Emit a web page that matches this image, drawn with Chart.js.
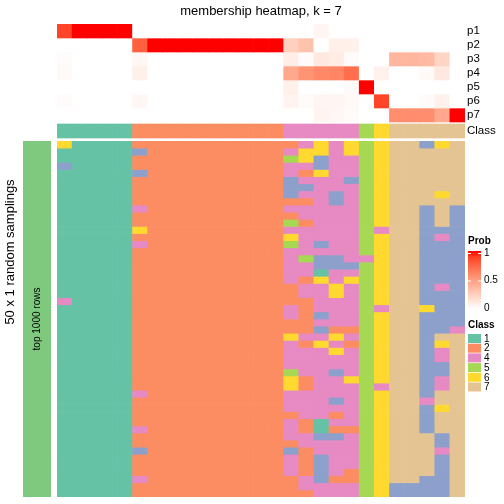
<!DOCTYPE html>
<html><head><meta charset="utf-8">
<script src="https://cdn.jsdelivr.net/npm/chart.js@4.4.1/dist/chart.umd.min.js"></script>
<style>html,body{margin:0;padding:0;background:#fff;}#wrap{position:relative;width:504px;height:504px;}</style>
</head><body><div id="wrap"><canvas id="c" width="504" height="504"></canvas></div>
<script>
// ---------------- data ----------------
const titleText = 'membership heatmap, k = 7';
const columnIds = ['c1','c2','c3','c4','c5','c6','c7','c8','c9','c10','c11','c12','c13','c14','c15','c16','c17','c18','c19','c20','c21','c22','c23','c24','c25','c26','c27'];
const probNames = ['p1','p2','p3','p4','p5','p6','p7'];
const p1 = [0.88,1,1,1,1, 0,0,0,0,0,0,0,0,0,0, 0,0,0.05,0,0, 0,0, 0,0,0,0,0];
const p2 = [0,0,0,0,0, 0.78,1,1,1,1,1,1,1,1,1, 0.25,0.32,0,0.08,0.07, 0,0, 0,0,0,0,0];
const p3 = [0.02,0,0,0,0, 0.04,0,0,0,0,0,0,0,0,0, 0.09,0.02,0.12,0.1,0.02, 0,0, 0.38,0.38,0.36,0.22,0];
const p4 = [0.03,0,0,0,0, 0.08,0,0,0,0,0,0,0,0,0, 0.45,0.55,0.6,0.62,0.72, 0,0.07, 0,0,0.03,0.12,0];
const p5 = [0,0,0,0,0, 0,0,0,0,0,0,0,0,0,0, 0.08,0,0,0,0.02, 1,0, 0,0,0,0,0];
const p6 = [0.02,0,0,0,0, 0.04,0,0,0,0,0,0,0,0,0, 0.06,0.02,0.05,0.05,0.03, 0,0.88, 0,0,0.02,0.07,0];
const p7 = [0,0,0,0,0, 0,0,0,0,0,0,0,0,0,0, 0,0,0.06,0.04,0.02, 0,0, 0.58,0.58,0.58,0.45,1];
const columnClass = [1,1,1,1,1, 2,2,2,2,2,2,2,2,2,2, 4,4,4,4,4, 5, 6, 7,7,7,7,7];
// 50 random samplings x 27 columns, class label per cell
const samplingRows = [
'611112222222222246465677367',
'111113222222222466465677777',
'111112222222222563445677777',
'311112222222222443445677777',
'111113222222222426445677777',
'111112222222222344435677777',
'111112222222222334445677777',
'111112222222222344345677767',
'111112222222222224345677777',
'111114222222222444445677373',
'111112222222222244445677373',
'111112222222222524445677373',
'111116222222222444445477333',
'111112222222222644445677343',
'111114222222222543445677333',
'111112222222222444445677333',
'111112222222222453344677333',
'111112222222222443335677333',
'111112222222222441445677333',
'111112222222222426465677333',
'111112222222222244645677343',
'111112222222222244645677333',
'411112222222222224445677333',
'111112222222222424445477633',
'111112222222222423445677333',
'111112222222222224445677333',
'111112222222222223225677334',
'111112222222222644645677377',
'111112222222222426425677367',
'111112222222222444645677347',
'111112222222222444445677347',
'111112222222222444445677337',
'111112222222222544345677337',
'111112222222222624465677347',
'111112222222222624445477347',
'111114222222222444445677377',
'111112222222222444345677477',
'111112222222222444445677367',
'111112222222222244245677377',
'111112222222222421445677377',
'111114222222222421225677377',
'111112222222222443345677737',
'111112222222222244445677737',
'111113222222222324445677747',
'111112222222222423445677737',
'111112222222222423445677737',
'111112222222222423425677737',
'111114222222222243225677337',
'111112222222222244445633337',
'111112222222222224445633337'
];
const legendClasses = ['1','2','4','5','6','7'];
const probTicks = [1, 0.5, 0];

// ---------------- styles ----------------
const FONT = '"Liberation Sans", Arial, Helvetica, sans-serif';
const classColors = {'1':'#66C2A5','2':'#FC8D62','3':'#8DA0CB','4':'#E78AC3','5':'#A6D854','6':'#FFD92F','7':'#E5C494'};
const stripColor = '#7FC97F';
const CLASS_ROW_START = 7 + 2/14;   // class annotation row below p7 (small gap)
const TOP_RANGE = 117/14;

// white -> red interpolation in LAB space
function toLin(c){c/=255;return c<=0.04045?c/12.92:Math.pow((c+0.055)/1.055,2.4);}
function toSrgb(c){const v=c<=0.0031308?12.92*c:1.055*Math.pow(c,1/2.4)-0.055;return Math.round(Math.max(0,Math.min(1,v))*255);}
function rgb2lab(r,g,b){const R=toLin(r),G=toLin(g),B=toLin(b);
  let X=(0.4124*R+0.3576*G+0.1805*B)/0.95047,Y=(0.2126*R+0.7152*G+0.0722*B),Z=(0.0193*R+0.1192*G+0.9505*B)/1.08883;
  const f=t=>t>0.008856?Math.cbrt(t):7.787*t+16/116;const fx=f(X),fy=f(Y),fz=f(Z);
  return [116*fy-16,500*(fx-fy),200*(fy-fz)];}
function lab2rgb(L,a,b){const fy=(L+16)/116,fx=fy+a/500,fz=fy-b/200;
  const fi=t=>{const t3=t*t*t;return t3>0.008856?t3:(t-16/116)/7.787;};
  const X=fi(fx)*0.95047,Y=fi(fy),Z=fi(fz)*1.08883;
  const R=3.2406*X-1.5372*Y-0.4986*Z,G=-0.9689*X+1.8758*Y+0.0415*Z,B=0.0557*X-0.2040*Y+1.0570*Z;
  return 'rgb('+toSrgb(R)+','+toSrgb(G)+','+toSrgb(B)+')';}
const LAB_W = rgb2lab(255,255,255), LAB_R = rgb2lab(255,0,0);
function probColor(v){const t=Math.max(0,Math.min(1,v));
  return lab2rgb(LAB_W[0]+(LAB_R[0]-LAB_W[0])*t,LAB_W[1]+(LAB_R[1]-LAB_W[1])*t,LAB_W[2]+(LAB_R[2]-LAB_W[2])*t);}

// ---------------- datasets ----------------
const probRows = [p1,p2,p3,p4,p5,p6,p7];
const datasets = [];
probRows.forEach((vals,i)=>{
  datasets.push({label:probNames[i], yAxisID:'yTop', data: vals.map(()=>[i,i+1]), backgroundColor: vals.map(probColor)});
});
datasets.push({label:'Class', yAxisID:'yTop', data: columnClass.map(()=>[CLASS_ROW_START, CLASS_ROW_START+1]), backgroundColor: columnClass.map(c=>classColors[String(c)])});
samplingRows.forEach((row,r)=>{
  const cells = row.split('');
  datasets.push({label:'s'+(r+1), yAxisID:'yBot', data: cells.map(()=>[r,r+1]), backgroundColor: cells.map(c=>classColors[c])});
});

// ---------------- decorations ----------------
const deco = {
  id:'deco',
  afterDraw(chart){
    const ctx = chart.ctx, yTop = chart.scales.yTop, yBot = chart.scales.yBot, area = chart.chartArea;
    ctx.save();
    ctx.fillStyle = '#000';
    // title
    ctx.font = '13px '+FONT; ctx.textAlign='center'; ctx.textBaseline='middle';
    ctx.fillText(titleText, (area.left+area.right)/2, 11);
    // row labels
    ctx.font = '11.5px '+FONT; ctx.textAlign='left';
    probNames.forEach((n,i)=>ctx.fillText(n, area.right+2, yTop.getPixelForValue(i+0.5)));
    ctx.fillText('Class', area.right+2, yTop.getPixelForValue(CLASS_ROW_START+0.5));
    // left strip
    const b0 = yBot.getPixelForValue(0), b1 = yBot.getPixelForValue(samplingRows.length);
    ctx.fillStyle = stripColor; ctx.fillRect(23, b0, 28, b1-b0);
    ctx.fillStyle = '#000';
    ctx.save(); ctx.translate(37,(b0+b1)/2); ctx.rotate(-Math.PI/2);
    ctx.font = '10px '+FONT; ctx.textAlign='center'; ctx.textBaseline='middle';
    ctx.fillText('top 1000 rows',0,0); ctx.restore();
    ctx.save(); ctx.translate(10,252); ctx.rotate(-Math.PI/2);
    ctx.font = '13px '+FONT; ctx.textAlign='center'; ctx.textBaseline='middle';
    ctx.fillText('50 x 1 random samplings',0,0); ctx.restore();
    // Prob legend
    const lx = 468, lw = 13, gTop = 251, gBot = 309;
    ctx.font = 'bold 10px '+FONT; ctx.textAlign='left'; ctx.textBaseline='middle';
    ctx.fillText('Prob', lx, 241);
    const grad = ctx.createLinearGradient(0,gTop,0,gBot);
    for(let k=0;k<=10;k++){grad.addColorStop(k/10, probColor(1-k/10));}
    ctx.fillStyle = grad; ctx.fillRect(lx,gTop,lw,gBot-gTop);
    ctx.font = '10px '+FONT; 
    probTicks.forEach(v=>{
      const y = gBot - (gBot-gTop-3)*v - 1;
      ctx.strokeStyle='#fff'; ctx.lineWidth=1;
      ctx.beginPath(); ctx.moveTo(lx,y+0.5); ctx.lineTo(lx+3,y+0.5); ctx.moveTo(lx+lw-3,y+0.5); ctx.lineTo(lx+lw,y+0.5); ctx.stroke();
      ctx.fillStyle='#000'; ctx.fillText(String(v), lx+lw+3, y);
    });
    // Class legend
    ctx.font = 'bold 10px '+FONT; ctx.fillStyle='#000';
    ctx.fillText('Class', lx, 325);
    ctx.font = '10px '+FONT;
    legendClasses.forEach((c,i)=>{
      const y = 334 + i*9.7;
      ctx.fillStyle = classColors[c]; ctx.fillRect(lx, y, lw, 9);
      ctx.fillStyle = '#000'; ctx.fillText(c, lx+lw+3, y+5);
    });
    ctx.restore();
  }
};

new Chart(document.getElementById('c'), {
  type:'bar',
  data:{labels: columnIds, datasets},
  options:{
    responsive:false, animation:false, devicePixelRatio:1,
    layout:{padding:{left:57,right:39,top:24,bottom:7}},
    datasets:{bar:{grouped:false, barPercentage:1, categoryPercentage:1, borderWidth:0}},
    scales:{
      x:{type:'category', offset:true, display:false},
      yTop:{type:'linear', position:'left', stack:'hm', stackWeight:117, weight:2, min:0, max:TOP_RANGE, reverse:true, display:false},
      yBot:{type:'linear', position:'left', stack:'hm', stackWeight:356, weight:1, min:0, max:samplingRows.length, reverse:true, display:false}
    },
    plugins:{legend:{display:false}, tooltip:{enabled:false}, title:{display:false}}
  },
  plugins:[deco]
});
</script></body></html>
